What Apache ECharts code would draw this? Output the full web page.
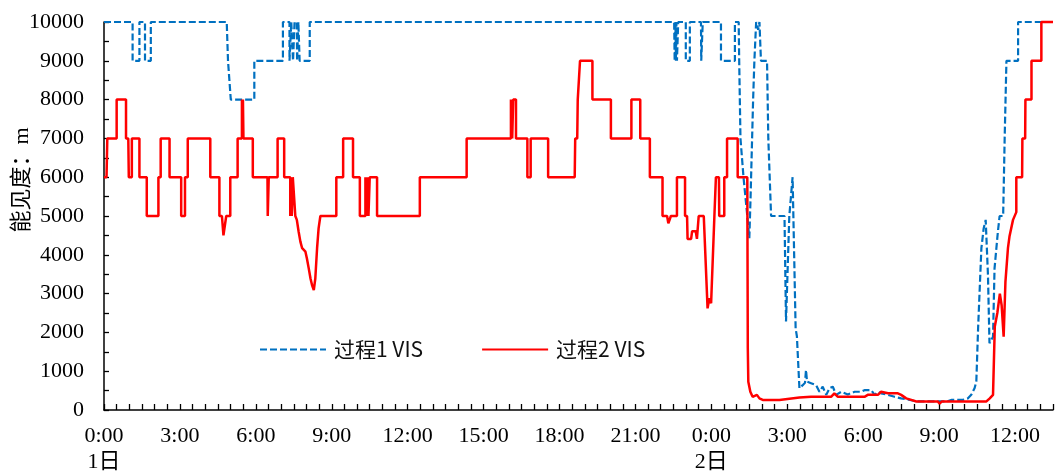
<!DOCTYPE html>
<html>
<head>
<meta charset="utf-8">
<script src="https://cdn.jsdelivr.net/npm/echarts@6/dist/echarts.min.js"></script>
<style>
  html, body { margin: 0; padding: 0; background: #fff; }
  #chart { width: 1057px; height: 475px; }
</style>
</head>
<body>
<div id="chart"></div>
<script>
// Visibility (m) for two fog events, plotted against hours elapsed since 0:00 of day 1.
const seriesNames = ['过程1 VIS', '过程2 VIS'];
const dayLabels = { 0: '1日', 24: '2日' };

const proc1Hours = [0, 1.13, 1.13, 1.40, 1.40, 1.62, 1.62, 1.85, 1.85, 4.85, 4.90, 4.97, 5.01, 5.94, 5.94,
  7.07, 7.07, 7.33, 7.33, 7.38, 7.40, 7.45, 7.47, 7.52, 7.53, 7.62, 7.63, 7.66, 7.68, 7.72, 7.73, 8.13, 8.13,
  22.53, 22.55, 22.58, 22.60, 22.62, 22.64, 22.69, 22.69, 22.99, 22.99, 23.15, 23.15, 23.59, 23.60, 23.65, 23.66,
  24.38, 24.38, 24.93, 24.93, 25.08, 25.10, 25.15, 25.22, 25.27, 25.33, 25.42, 25.50, 25.55, 25.57, 25.65, 25.70,
  25.77, 25.85, 25.90, 25.96, 26.20, 26.25, 26.36, 26.89, 26.95, 27.08, 27.21, 27.28, 27.33, 27.38, 27.48, 27.61,
  27.70, 27.74, 27.78, 27.94, 28.14, 28.27, 28.40, 28.54, 28.67, 28.80, 28.93, 29.13, 29.39, 29.66, 29.92, 30.05,
  30.32, 30.45, 30.58, 30.71, 30.98, 31.24, 31.50, 31.70, 32.10, 33.30, 33.50, 33.94, 34.00, 34.14, 34.27, 34.40,
  34.47, 34.54, 34.67, 34.76, 34.84, 34.93, 34.99, 35.13, 35.19, 35.32, 35.39, 35.53, 35.59, 35.66, 36.12, 36.12, 37.5];
const proc1Vis = [10000, 10000, 9000, 9000, 10000, 10000, 9000, 9000, 10000, 10000, 9000, 9000, 8000, 8000, 9000,
  9000, 10000, 10000, 9000, 9000, 10000, 10000, 9000, 9000, 10000, 10000, 9000, 9000, 10000, 10000, 9000, 9000, 10000,
  10000, 9000, 10000, 9000, 10000, 9000, 9000, 10000, 10000, 9000, 9000, 10000, 10000, 9000, 9000, 10000,
  10000, 9000, 9000, 10000, 10000, 9000, 7000, 7000, 6000, 6000, 5000, 4430, 5500, 6000, 8000, 9000,
  10000, 9800, 10000, 9000, 9000, 7000, 5000, 5000, 2280, 5000, 6000, 6000, 2100, 1900, 560, 640,
  700, 1030, 730, 690, 640, 470, 600, 390, 560, 600, 390, 470, 400, 470, 470, 510,
  510, 390, 470, 430, 390, 340, 300, 280, 220, 220, 260, 260, 220, 300, 390, 560,
  730, 2100, 4170, 4680, 4900, 3480, 1720, 1890, 3650, 4580, 5000, 5000, 7000, 9000, 9000, 10000, 10000];

const proc2Hours = [0, 0.10, 0.13, 0.50, 0.50, 0.87, 0.87, 0.96, 0.98, 1.10, 1.10, 1.40, 1.40, 1.69, 1.69, 2.15, 2.15,
  2.24, 2.24, 2.59, 2.59, 3.05, 3.05, 3.20, 3.20, 3.31, 3.31, 4.20, 4.20, 4.56, 4.56, 4.66, 4.72, 4.83, 4.99, 4.99,
  5.28, 5.28, 5.45, 5.45, 5.47, 5.49, 5.51, 5.88, 5.88, 6.46, 6.47, 6.51, 6.86, 6.86, 7.12, 7.12, 7.36, 7.36, 7.39,
  7.42, 7.46, 7.53, 7.56, 7.62, 7.69, 7.76, 7.83, 7.89, 7.96, 8.02, 8.09, 8.16, 8.22, 8.29, 8.35, 8.42, 8.48, 8.55,
  9.18, 9.18, 9.45, 9.45, 9.84, 9.84, 10.11, 10.11, 10.33, 10.33, 10.37, 10.41, 10.45, 10.50, 10.79, 10.79, 12.48, 12.48,
  14.33, 14.33, 16.08, 16.08, 16.13, 16.17, 16.28, 16.28, 16.73, 16.73, 16.86, 16.86, 17.55, 17.55, 18.60, 18.62,
  18.70, 18.72, 18.79, 18.81, 19.30, 19.30, 20.03, 20.03, 20.84, 20.84, 21.19, 21.19, 21.57, 21.57, 22.07, 22.07,
  22.25, 22.30, 22.35, 22.40, 22.64, 22.64, 22.96, 22.96, 23.04, 23.06, 23.20, 23.24, 23.38, 23.43, 23.50, 23.70,
  23.85, 23.92, 23.99, 24.12, 24.18, 24.30, 24.31, 24.51, 24.51, 24.62, 24.62, 25.04, 25.04, 25.42, 25.44, 25.46,
  25.54, 25.63, 25.70, 25.80, 25.90, 26.03, 26.69, 26.75, 27.48, 27.94, 28.73, 28.86, 29.00, 30.05, 30.12, 30.18,
  30.58, 30.71, 30.98, 31.37, 31.50, 31.70, 31.90, 32.10, 32.95, 33.02, 33.10, 34.87, 35.00, 35.13, 35.20, 35.30,
  35.40, 35.47, 35.55, 35.62, 35.72, 35.78, 35.85, 35.92, 36.05, 36.05, 36.28, 36.29, 36.40, 36.41, 36.65, 36.65,
  37.04, 37.04, 37.5];
const proc2Vis = [6000, 6000, 7000, 7000, 8000, 8000, 7000, 7000, 6000, 6000, 7000, 7000, 6000, 6000, 5000, 5000, 6000,
  6000, 7000, 7000, 6000, 6000, 5000, 5000, 6000, 6000, 7000, 7000, 6000, 6000, 5000, 5000, 4500, 5000, 5000, 6000,
  6000, 7000, 7000, 8000, 7000, 8000, 7000, 7000, 6000, 6000, 5000, 6000, 6000, 7000, 7000, 6000, 6000, 5000, 6000,
  5000, 6000, 6000, 5000, 4900, 4600, 4340, 4170, 4200, 4080, 3900, 3650, 3390, 3220, 3090, 3390, 4170, 4680, 5000,
  5000, 6000, 6000, 7000, 7000, 6000, 6000, 5000, 5000, 6000, 5000, 6000, 5000, 6000, 6000, 5000, 5000, 6000,
  6000, 7000, 7000, 8000, 7000, 8000, 8000, 7000, 7000, 6000, 6000, 7000, 7000, 6000, 6000, 7000,
  7000, 8000, 8000, 9000, 9000, 8000, 8000, 7000, 7000, 8000, 8000, 7000, 7000, 6000, 6000, 5000,
  5000, 4810, 4900, 5000, 5000, 6000, 6000, 5000, 5000, 4410, 4410, 4610, 4610, 4410, 5000, 5000,
  2620, 2880, 2750, 5000, 6000, 6000, 5000, 5000, 6000, 6000, 7000, 7000, 6000, 6000, 1590, 730,
  470, 340, 390, 390, 300, 260, 260, 300, 320, 340, 340, 430, 340, 340, 300, 390,
  390, 470, 430, 430, 390, 300, 260, 220, 220, 160, 220, 220, 300, 390, 2150, 2500,
  3000, 2700, 1890, 3300, 4170, 4470, 4510, 4900, 5100, 6000, 6000, 7000, 7000, 8000, 8000, 9000,
  9000, 10000, 10000];

const zip = (xs, ys) => xs.map((x, i) => [x, ys[i]]);

const serifFont = '"Liberation Serif", "Times New Roman", "Noto Sans CJK SC", serif';
const sansFont = '"Noto Sans CJK SC", sans-serif';

const chart = echarts.init(document.getElementById('chart'), null, { renderer: 'canvas' });

chart.setOption({
  animation: false,
  backgroundColor: '#fff',
  grid: { left: 104, right: 4, top: 22, bottom: 65, containLabel: false },
  legend: {
    data: seriesNames,
    left: 254,
    top: 334,
    itemWidth: 66,
    itemHeight: 12,
    itemGap: 58,
    itemStyle: { opacity: 0 },
    textStyle: { fontFamily: sansFont, fontSize: 21, color: '#111', padding: [0, 0, 0, 3] }
  },
  xAxis: {
    type: 'value',
    min: 0,
    max: 37.5,
    interval: 0.5,
    splitLine: { show: false },
    axisLine: { lineStyle: { color: '#000', width: 1.5 } },
    axisTick: { inside: true, length: 6, lineStyle: { color: '#000', width: 1.3 } },
    axisLabel: {
      color: '#000',
      fontFamily: serifFont,
      fontSize: 22,
      lineHeight: 26,
      margin: 13,
      formatter: function (v) {
        const r = Math.round(v);
        if (Math.abs(v - r) > 1e-6 || r % 3 !== 0) return '';
        let s = (r % 24) + ':00';
        if (dayLabels[r] !== undefined) s += '\n' + dayLabels[r];
        return s;
      }
    }
  },
  yAxis: {
    type: 'value',
    min: 0,
    max: 10000,
    interval: 1000,
    splitLine: { show: false },
    axisLine: { show: true, lineStyle: { color: '#000', width: 1.5 } },
    axisTick: { inside: true, length: 5, lineStyle: { color: '#000', width: 1.3 } },
    minorTick: { show: true, splitNumber: 2, length: 5, lineStyle: { color: '#000', width: 1.3 } },
    axisLabel: {
      color: '#000',
      fontFamily: serifFont,
      fontSize: 22,
      margin: 20,
      formatter: function (v) { return String(v); }
    }
  },
  graphic: [{
    type: 'text',
    x: 22,
    y: 180,
    rotation: Math.PI / 2,
    style: {
      text: '能见度：m',
      fill: '#000',
      font: '22px ' + serifFont,
      textAlign: 'center',
      textVerticalAlign: 'middle'
    }
  }],
  series: [
    {
      name: seriesNames[0],
      type: 'line',
      data: zip(proc1Hours, proc1Vis),
      symbol: 'none',
      clip: false,
      lineStyle: { color: '#0070C0', width: 2.2, type: [7, 3] },
      itemStyle: { color: '#0070C0' },
      z: 2
    },
    {
      name: seriesNames[1],
      type: 'line',
      data: zip(proc2Hours, proc2Vis),
      symbol: 'none',
      clip: false,
      lineStyle: { color: '#FF0000', width: 2.5 },
      itemStyle: { color: '#FF0000' },
      z: 3
    }
  ]
});
</script>
</body>
</html>
